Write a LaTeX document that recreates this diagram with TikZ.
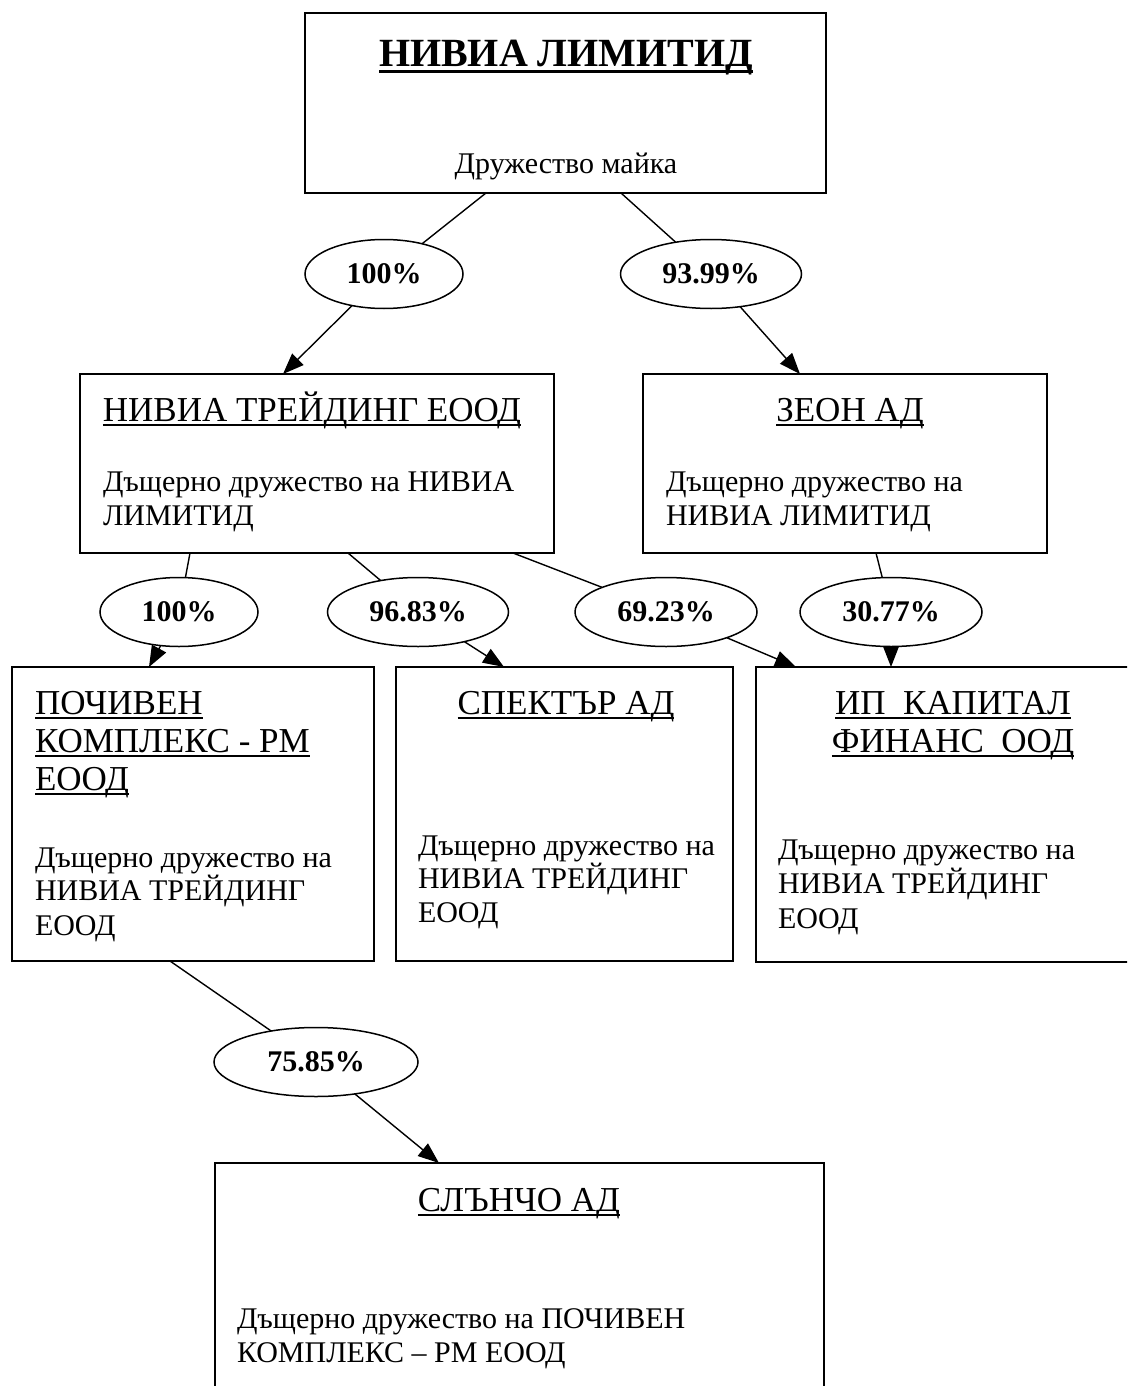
\documentclass[tikz,border=0pt]{standalone}
\usepackage{fontspec}
\setmainfont{Liberation Serif}
\newcommand{\myul}[3][1.8pt]{\setbox0\hbox{#3}\leavevmode\rlap{\rule[#2]{\wd0}{#1}}\box0}
\usetikzlibrary{shapes.geometric,arrows.meta,calc}
\begin{document}
\begin{tikzpicture}[x=1pt,y=-1pt,
  every node/.style={font=\fontsize{30}{34.5}\selectfont, inner sep=0pt, outer sep=0pt},
  box/.style={draw, line width=1.5pt, rectangle, anchor=north west},
  pct/.style={draw, line width=1.5pt, ellipse, font=\fontsize{30}{34.5}\selectfont\bfseries, minimum height=69pt},
  link/.style={line width=1.4pt},
  arr/.style={line width=1.4pt, -{Triangle[length=21pt,width=16pt]}},
  txt/.style={anchor=base west},
  ttl/.style={anchor=base, font=\fontsize{35}{40}\selectfont},
  ttlw/.style={anchor=base west, font=\fontsize{35}{40}\selectfont},
]
\useasboundingbox (0,0) rectangle (1127,1386);
\clip (0,0) rectangle (1127,1386);

% boxes
\node[box, minimum width=521pt, minimum height=180pt] (top) at (305,13) {};
\node[box, minimum width=474pt, minimum height=179pt] (ntr) at (80,374) {};
\node[box, minimum width=404pt, minimum height=179pt] (zeon) at (643,374) {};
\node[box, minimum width=362pt, minimum height=294pt] (poch) at (12,667) {};
\node[box, minimum width=337pt, minimum height=294pt] (spek) at (396,667) {};
\node[box, minimum width=420pt, minimum height=295pt] (ip) at (756,667) {};
\node[box, minimum width=609pt, minimum height=300pt] (slun) at (215,1163) {};

% percentage ellipses
\node[pct, minimum width=158pt] (e1) at (384,274) {100\%};
\node[pct, minimum width=181pt] (e2) at (711,274) {93.99\%};
\node[pct, minimum width=158pt] (e3) at (179,612) {100\%};
\node[pct, minimum width=181pt] (e4) at (418,612) {96.83\%};
\node[pct, minimum width=182pt] (e5) at (666,612) {69.23\%};
\node[pct, minimum width=182pt] (e6) at (891,612) {30.77\%};
\node[pct, minimum width=204pt] (e7) at (316,1062) {75.85\%};

% connectors
\draw[link] ($(top.south west)+(181,0)$) -- (e1);
\draw[arr] (e1) -- ($(ntr.north west)+(203,0)$);
\draw[link] ($(top.south west)+(316,0)$) -- (e2);
\draw[arr] (e2) -- ($(zeon.north west)+(157,0)$);
\draw[link] ($(ntr.south west)+(110,0)$) -- (e3);
\draw[arr] (e3) -- ($(poch.north west)+(137,0)$);
\draw[link] ($(ntr.south west)+(268,0)$) -- (e4);
\draw[arr] (e4) -- ($(spek.north west)+(108,0)$);
\draw[link] ($(ntr.south west)+(433,0)$) -- (e5);
\draw[arr] (e5) -- ($(ip.north west)+(40,0)$);
\draw[link] ($(zeon.south west)+(233,0)$) -- (e6);
\draw[arr] (e6) -- ($(ip.north west)+(135,0)$);
\draw[link] ($(poch.south west)+(158,0)$) -- (e7);
\draw[arr] (e7) -- ($(slun.north west)+(224,0)$);

% texts
\node[anchor=base, font=\fontsize{40}{46}\selectfont\bfseries] (t0) at (566,67) {\myul[3.2pt]{-6pt}{НИВИА ЛИМИТИД}};
\node[anchor=base] (s0) at (566,173) {Дружество майка};

\node[ttl] (t1) at (312,421) {\myul{-4.5pt}{НИВИА ТРЕЙДИНГ ЕООД}};
\node[txt] (b1a) at (103,491) {Дъщерно дружество на НИВИА};
\node[txt] (b1b) at (103,525) {ЛИМИТИД};

\node[ttl] (t2) at (850,421) {\myul{-4.5pt}{ЗЕОН АД}};
\node[txt] (b2a) at (666,491) {Дъщерно дружество на};
\node[txt] (b2b) at (666,525) {НИВИА ЛИМИТИД};

\node[ttlw] (t3a) at (35,714) {\myul{-4.5pt}{ПОЧИВЕН}};
\node[ttlw] (t3b) at (35,752) {\myul{-4.5pt}{КОМПЛЕКС - РМ}};
\node[ttlw] (t3c) at (35,790) {\myul{-4.5pt}{ЕООД}};
\node[txt] (b3a) at (35,867) {Дъщерно дружество на};
\node[txt] (b3b) at (35,900) {НИВИА ТРЕЙДИНГ};
\node[txt] (b3c) at (35,935) {ЕООД};

\node[ttl] (t4) at (566,714) {\myul{-4.5pt}{СПЕКТЪР АД}};
\node[txt] (b4a) at (418,855) {Дъщерно дружество на};
\node[txt] (b4b) at (418,888) {НИВИА ТРЕЙДИНГ};
\node[txt] (b4c) at (418,922) {ЕООД};

\node[ttl] (t5a) at (953,714) {\myul{-4.5pt}{ИП\ \ КАПИТАЛ}};
\node[ttl] (t5b) at (953,752) {\myul{-4.5pt}{ФИНАНС\ \ ООД}};
\node[txt] (b5a) at (778,859) {Дъщерно дружество на};
\node[txt] (b5b) at (778,893) {НИВИА ТРЕЙДИНГ};
\node[txt] (b5c) at (778,928) {ЕООД};

\node[ttl] (t6) at (519,1211) {\myul{-4.5pt}{СЛЪНЧО АД}};
\node[txt] (b6a) at (237,1328) {Дъщерно дружество на ПОЧИВЕН};
\node[txt] (b6b) at (237,1362) {КОМПЛЕКС – РМ ЕООД};
\end{tikzpicture}
\end{document}
